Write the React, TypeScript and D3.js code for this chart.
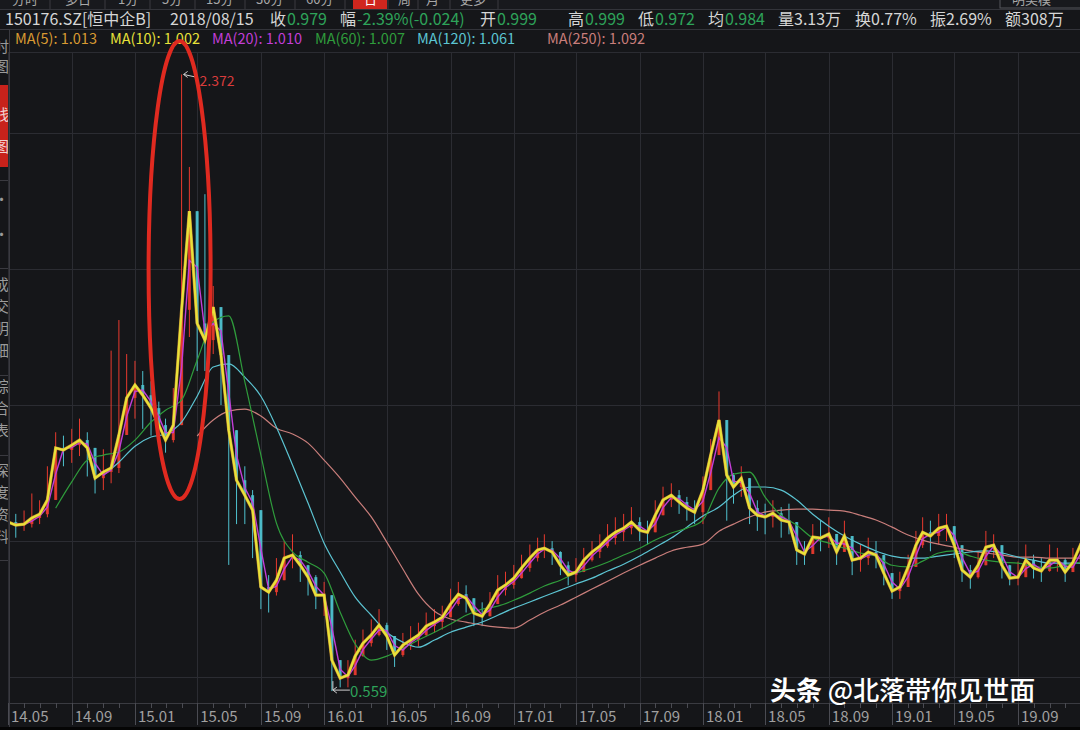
import React from "react";
import * as d3 from "d3";

const W = 1080;
const H = 730;
const FONT = "'Noto Sans CJK SC', 'Noto Sans', sans-serif";

// ---------- data ----------
const tickLabels = ["14.05","14.09","15.01","15.05","15.09","16.01","16.05","16.09","17.01","17.05","17.09","18.01","18.05","18.09","19.01","19.05","19.09"];
const gridValues = [0.6, 1.0, 1.4, 1.8, 2.2];

// half-month samples starting 2014-05-01
const close = [
  1.056,1.047,1.050,1.068,1.079,1.121,1.274,1.268,1.282,1.297,
  1.274,1.185,1.203,1.215,1.312,1.421,1.459,1.429,1.391,1.341,
  1.297,1.341,1.680,1.970,1.640,1.591,1.688,1.547,1.326,1.179,
  1.135,1.091,0.865,0.850,0.885,0.950,0.959,0.929,0.894,0.841,
  0.841,0.650,0.597,0.606,0.662,0.700,0.724,0.753,0.721,0.665,
  0.694,0.709,0.724,0.750,0.762,0.776,0.815,0.844,0.832,0.788,
  0.779,0.815,0.856,0.871,0.891,0.921,0.950,0.974,0.979,0.968,
  0.929,0.900,0.909,0.944,0.968,0.985,1.009,1.026,1.038,1.056,
  1.032,1.026,1.076,1.121,1.135,1.115,1.097,1.085,1.150,1.253,
  1.356,1.194,1.159,1.185,1.097,1.076,1.071,1.082,1.062,1.056,
  0.974,0.962,1.012,1.009,1.021,0.968,1.015,0.944,0.950,0.968,
  0.959,0.906,0.853,0.865,0.924,0.988,1.026,1.015,1.038,1.044,
  0.988,0.915,0.894,0.929,0.982,0.988,0.929,0.891,0.894,0.944,
  0.921,0.912,0.944,0.944,0.909,0.938,0.994
];
const high = [
  1.09,1.08,1.09,1.14,1.12,1.22,1.32,1.31,1.33,1.36,
  1.32,1.25,1.27,1.56,1.65,1.55,1.53,1.50,1.47,1.41,
  1.36,1.45,2.372,2.10,1.78,2.02,1.75,1.68,1.45,1.28,
  1.22,1.15,0.95,0.90,0.95,1.00,1.02,0.97,0.93,0.90,
  0.88,0.74,0.64,0.65,0.71,0.74,0.77,0.80,0.76,0.71,
  0.73,0.75,0.76,0.79,0.80,0.81,0.86,0.88,0.87,0.83,
  0.82,0.85,0.90,0.91,0.93,0.96,0.99,1.01,1.02,1.00,
  0.97,0.94,0.95,0.98,1.00,1.02,1.05,1.07,1.08,1.10,
  1.07,1.06,1.12,1.16,1.17,1.15,1.13,1.12,1.19,1.30,
  1.44,1.30,1.20,1.22,1.15,1.12,1.11,1.12,1.10,1.11,
  1.02,1.00,1.05,1.06,1.07,1.01,1.06,0.99,0.99,1.01,
  1.00,0.95,0.90,0.91,0.96,1.03,1.07,1.06,1.08,1.08,
  1.03,0.96,0.93,0.97,1.03,1.02,0.97,0.93,0.94,0.99,
  0.96,0.95,0.99,0.98,0.95,0.98,1.04
];
const low = [
  1.02,1.01,1.03,1.04,1.05,1.07,1.20,1.22,1.23,1.25,
  1.19,1.14,1.15,1.17,1.20,1.33,1.36,1.33,1.31,1.29,
  1.26,1.29,1.45,1.60,1.50,1.50,1.55,1.40,0.93,1.05,
  1.05,0.95,0.80,0.79,0.84,0.90,0.92,0.88,0.84,0.80,
  0.78,0.559,0.57,0.57,0.62,0.66,0.69,0.72,0.68,0.63,
  0.66,0.68,0.69,0.72,0.73,0.74,0.78,0.81,0.79,0.75,
  0.75,0.78,0.82,0.84,0.86,0.89,0.91,0.94,0.95,0.93,
  0.90,0.87,0.88,0.91,0.94,0.95,0.98,0.99,1.00,1.02,
  1.00,0.99,1.04,1.08,1.10,1.08,1.06,1.05,1.05,1.19,
  1.28,1.06,1.11,1.13,1.05,1.03,1.02,1.04,1.01,1.02,
  0.93,0.93,0.97,0.97,0.98,0.93,0.97,0.90,0.91,0.93,
  0.92,0.87,0.83,0.83,0.88,0.94,0.98,0.97,0.99,1.00,
  0.95,0.88,0.86,0.89,0.94,0.95,0.89,0.87,0.87,0.91,
  0.89,0.88,0.91,0.91,0.88,0.91,0.95
];

// monthly samples starting 2014-05
const ma60 = [null,null,null,
  1.097,1.174,1.238,1.253,1.262,1.297,1.350,1.385,1.415,1.532,
  1.644,1.662,1.468,1.253,1.053,0.968,0.938,0.906,0.791,0.697,
  0.650,0.662,0.685,0.709,0.732,0.756,0.782,0.800,0.809,0.826,
  0.847,0.868,0.885,0.906,0.921,0.938,0.959,0.979,1.003,1.024,
  1.038,1.062,1.156,1.197,1.203,1.129,1.076,1.047,1.009,0.994,
  0.979,0.965,0.956,0.929,0.924,0.941,0.965,0.971,0.956,0.944,
  0.938,0.935,0.926,0.921,0.929,0.938];
const ma120 = [null,null,null,null,null,null,
  1.194,1.232,1.279,1.306,1.315,1.350,1.426,1.512,1.521,1.482,
  1.426,1.335,1.224,1.112,0.994,0.909,0.835,0.782,0.732,0.703,
  0.688,0.709,0.732,0.747,0.762,0.782,0.803,0.821,0.838,0.856,
  0.874,0.891,0.912,0.932,0.956,0.982,1.009,1.041,1.074,1.100,
  1.135,1.159,1.159,1.150,1.121,1.079,1.044,1.015,0.991,0.971,
  0.956,0.950,0.950,0.956,0.962,0.968,0.971,0.965,0.953,0.944,
  0.935,0.935,0.935];
const ma250 = [null,null,null,null,null,null,null,null,null,null,null,null,
  1.309,1.356,1.382,1.388,1.368,1.332,1.315,1.288,1.238,1.185,
  1.129,1.071,0.997,0.918,0.844,0.794,0.771,0.762,0.753,0.747,
  0.744,0.768,0.791,0.812,0.835,0.859,0.882,0.906,0.929,0.950,
  0.971,0.982,0.991,1.029,1.050,1.071,1.085,1.091,1.094,1.094,
  1.091,1.088,1.076,1.062,1.041,1.018,1.003,0.991,0.982,0.971,
  0.965,0.959,0.953,0.953,0.950,0.950,0.950];

const maNames = ["MA(5)","MA(10)","MA(20)","MA(60)","MA(120)","MA(250)"];
const maValues = ["1.013","1.002","1.010","1.007","1.061","1.092"];
const maColors = ["#d99a32","#e8e23a","#c23ed8","#2f9c3c","#5cc4d2","#c97e7b"];
const maLegendX = [15,110,212,315,417,547];

const headerItems: [string, string, number][] = [
  ["收","0.979",270],["幅","-2.39%(-0.024)",340],["开","0.999",480],
  ["高","0.999",568],["低","0.972",638],["均","0.984",708]
];
const headerPlain: [string, number][] = [["量3.13万",778],["换0.77%",855],["振2.69%",930],["额308万",1005]];

const tabs: [string, number][] = [["分时",12],["多日",65],["1分",118],["5分",162],["15分",206],["30分",256],["60分",306],["日",364],["周",398],["月",426],["更多",460]];
const tabSeps = [50,105,150,195,245,295,345,388,418,450,498];
const sideChars: [string, number, boolean][] = [["时",52,false],["图",72,false],["线",120,true],["图",152,true],["·",205,false],["·",240,false],["成",290,false],["交",312,false],["明",334,false],["细",356,false],["综",392,false],["合",414,false],["表",436,false],["深",476,false],["度",498,false],["资",520,false],["料",542,false]];

// ---------- derived sampling grids ----------
const halfDates = close.map((_, i) => new Date(2014, 4 + Math.floor(i / 2), i % 2 ? 16 : 1));
const monthDates = ma60.map((_, m) => new Date(2014, 4 + m, 1));
const ma20 = close.map((c, i) => (i === 0 ? null : (c + close[i - 1]) / 2));

export default function App() {
  const x = d3.scaleTime().domain([new Date(2014, 4, 1), new Date(2019, 8, 1)]).range([8, 1018]);
  const y = d3.scaleLinear().domain([0.524, 2.438]).range([703, 52]);
  const tickDates = tickLabels.map((t) => {
    const [yy, mm] = t.split(".").map(Number);
    return new Date(2000 + yy, mm - 1, 1);
  });
  const minorDates = d3.timeMonth.range(new Date(2014, 4, 1), new Date(2020, 0, 1));

  const lineHalf = d3.line<number | null>()
    .defined((d) => d != null)
    .x((_, i) => x(halfDates[i]))
    .y((d) => y(d as number));
  const lineMonth = d3.line<number | null>()
    .defined((d) => d != null)
    .x((_, i) => x(monthDates[i]))
    .y((d) => y(d as number))
    .curve(d3.curveMonotoneX);

  const peakIdx = d3.maxIndex(high);
  const lowIdx = d3.minIndex(low);
  const px = x(halfDates[peakIdx]);
  const py = y(high[peakIdx]);
  const lx = x(halfDates[lowIdx]);
  const ly = y(low[lowIdx]);

  const green = "#2ea35a";
  const grid = "#2b2c32";

  return (
    <svg width={W} height={H} style={{ position: "fixed", left: 0, top: 0, background: "#151619" }} fontFamily={FONT}>
      <rect x={0} y={0} width={W} height={H} fill="#151619" />
      {/* tab row (cut off at the top, as in the screenshot) */}
      <rect x={0} y={0} width={W} height={9} fill="#18191d" />
      <rect x={353} y={0} width={34} height={9} fill="#d0261e" />
      {tabs.map(([t, tx], i) => (
        <text key={i} x={tx} y={4} fontSize={13} fill={t === "日" ? "#fff" : "#a8a8a8"}>{t}</text>
      ))}
      {tabSeps.map((s, i) => (
        <line key={i} x1={s} x2={s} y1={0} y2={9} stroke="#3a3a40" />
      ))}
      <rect x={1000} y={-6} width={82} height={14} fill="none" stroke="#55565c" />
      <text x={1012} y={4} fontSize={13} fill="#a8a8a8">明美模</text>
      <line x1={0} x2={W} y1={9.5} y2={9.5} stroke="#33343a" />

      {/* header */}
      <text x={5} y={25} fontSize={16} fill="#d6d6d6">150176.SZ[恒中企B]</text>
      <text x={170} y={25} fontSize={16} fill="#d6d6d6">2018/08/15</text>
      {headerItems.map(([lab, val, hx], i) => (
        <text key={i} x={hx} y={25} fontSize={16} fill="#d6d6d6">
          {lab}
          <tspan fill={green} dx={1}>{val}</tspan>
        </text>
      ))}
      {headerPlain.map(([t, hx], i) => (
        <text key={i} x={hx} y={25} fontSize={16} fill="#d6d6d6">{t}</text>
      ))}
      <line x1={10} x2={W} y1={29.5} y2={29.5} stroke="#33343a" />

      {/* MA legend */}
      {maNames.map((n, i) => (
        <text key={n} x={maLegendX[i]} y={44} fontSize={14.5} fill={maColors[i]}>
          {n}: {maValues[i]}
        </text>
      ))}

      {/* sidebar */}
      <rect x={0} y={85} width={9} height={82} fill="#c8221b" />
      {sideChars.map(([c, sy, onRed], i) => (
        <text key={i} x={-6} y={sy} fontSize={15} fill={onRed ? "#f0d0d0" : "#9a9a9a"}>{c}</text>
      ))}
      {[29, 180, 268, 375, 455, 560].map((sy, i) => (
        <line key={i} x1={0} x2={9} y1={sy + 0.5} y2={sy + 0.5} stroke="#3a3a40" />
      ))}
      <line x1={9.5} x2={9.5} y1={29} y2={727} stroke="#3a3a40" />

      {/* grid */}
      <line x1={10} x2={W} y1={52.5} y2={52.5} stroke={grid} />
      {gridValues.map((v) => (
        <line key={v} x1={10} x2={W} y1={Math.round(y(v)) + 0.5} y2={Math.round(y(v)) + 0.5} stroke={grid} />
      ))}
      {tickDates.map((d, i) => (
        <line key={i} x1={Math.round(x(d)) + 0.5} x2={Math.round(x(d)) + 0.5} y1={52} y2={703} stroke={grid} />
      ))}

      <defs>
        <clipPath id="plot">
          <rect x={10} y={52} width={W - 10} height={651} />
        </clipPath>
      </defs>

      <g clipPath="url(#plot)">
        {/* candles */}
        {close.map((c, i) => {
          const o = i === 0 ? c : close[i - 1];
          const up = c >= o;
          const col = up ? "#e83a2e" : "#4fc2cf";
          const cx = x(halfDates[i]);
          const top = Math.max(o, c, high[i]);
          const bot = Math.min(o, c, low[i]);
          const bTop = y(Math.max(o, c));
          const bBot = y(Math.min(o, c));
          return (
            <g key={i}>
              <line x1={cx} x2={cx} y1={y(top)} y2={y(bot)} stroke={col} strokeWidth={1} />
              <rect x={cx - 1.5} y={bTop} width={3} height={Math.max(1, bBot - bTop)} fill={col} opacity={0.9} />
            </g>
          );
        })}
        {/* moving averages */}
        <path d={lineMonth(ma250) || ""} fill="none" stroke={maColors[5]} strokeWidth={1.2} />
        <path d={lineMonth(ma120) || ""} fill="none" stroke={maColors[4]} strokeWidth={1.2} />
        <path d={lineMonth(ma60) || ""} fill="none" stroke={maColors[3]} strokeWidth={1.2} />
        <path d={lineHalf(ma20) || ""} fill="none" stroke={maColors[2]} strokeWidth={1.4} />
        <path d={lineHalf(close) || ""} fill="none" stroke={maColors[0]} strokeWidth={3.2} opacity={0.85} />
        <path d={lineHalf(close) || ""} fill="none" stroke={maColors[1]} strokeWidth={2.2} />

        {/* annotations */}
        <path d={`M${px + 16},${py + 3}L${px + 2},${py}M${px + 6},${py - 3}L${px + 2},${py}L${px + 6},${py + 3}`} fill="none" stroke="#cfcfcf" strokeWidth={1} />
        <text x={px + 18} y={py + 12} fontSize={14} fill="#d93c3c">{high[peakIdx].toFixed(3)}</text>
        <path d={`M${lx + 1},${ly - 10}L${lx + 1},${ly - 1}L${lx + 18},${ly - 1}M${lx + 5},${ly - 4}L${lx + 1},${ly - 1}L${lx + 5},${ly + 2}`} fill="none" stroke="#d0d0d0" strokeWidth={1} />
        <text x={lx + 18} y={ly + 6} fontSize={15} fill={green}>{low[lowIdx].toFixed(3)}</text>
      </g>

      {/* red ellipse highlight */}
      <ellipse cx={px - 2} cy={270} rx={31} ry={229} fill="none" stroke="#e02a20" strokeWidth={4} />

      {/* x axis */}
      <line x1={10} x2={W} y1={703.5} y2={703.5} stroke="#3a3b41" />
      {minorDates.map((d, i) => (
        <line key={i} x1={Math.round(x(d)) + 0.5} x2={Math.round(x(d)) + 0.5} y1={703} y2={708} stroke="#4a4b52" />
      ))}
      {tickDates.map((d, i) => (
        <g key={i}>
          <line x1={Math.round(x(d)) + 0.5} x2={Math.round(x(d)) + 0.5} y1={703} y2={725} stroke="#4a4b52" />
          <text x={x(d) + 3} y={722} fontSize={15} fill="#a0a0a0">{tickLabels[i]}</text>
        </g>
      ))}
      <rect x={0} y={727} width={W} height={3} fill="#050505" />

      {/* watermark */}
      <text x={770} y={700} fontSize={26} fill="#ffffff" fontWeight={700}>
        头条<tspan fontWeight={500}> @北落带你见世面</tspan>
      </text>
    </svg>
  );
}
